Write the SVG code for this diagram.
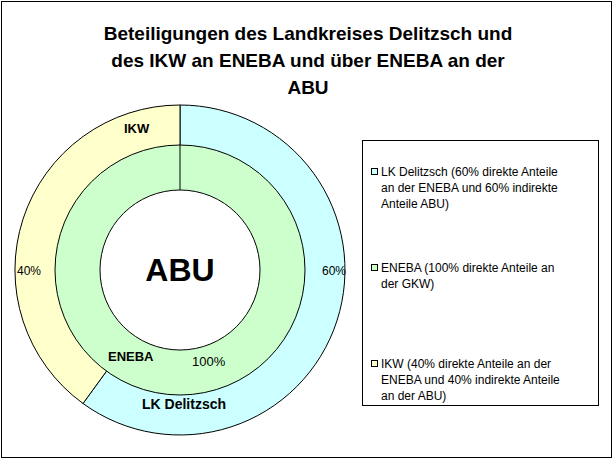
<svg xmlns="http://www.w3.org/2000/svg" width="616" height="462" viewBox="0 0 616 462">
<style>
text{font-family:"Liberation Sans",Arial,sans-serif;fill:#000}
.t{font-size:19px;font-weight:bold}
.l{font-size:12px}
.s{stroke:#000;stroke-width:1}
</style>
<rect x="0" y="0" width="616" height="462" fill="#fff"/>
<rect x="1.5" y="1.5" width="610" height="456" fill="none" stroke="#000"/>
<g id="title">
<text class="t" x="308" y="40" text-anchor="middle">Beteiligungen des Landkreises Delitzsch und</text>
<text class="t" x="308" y="67" text-anchor="middle">des IKW an ENEBA und über ENEBA  an der</text>
<text class="t" x="308" y="94" text-anchor="middle">ABU</text>
</g>
<g id="outer-lk">
<path class="s" d="M180,270 L180,105 A165,165 0 1 1 83,403.5 Z" fill="#ccffff"/>
</g>
<g id="outer-ikw">
<path class="s" d="M180,270 L83,403.5 A165,165 0 0 1 180,105 Z" fill="#ffffcc"/>
</g>
<g id="inner-eneba">
<circle class="s" cx="180" cy="270" r="125" fill="#ccffcc"/>
<line class="s" x1="180" y1="145" x2="180" y2="190"/>
</g>
<g id="hole">
<circle class="s" cx="180" cy="270" r="80" fill="#fff"/>
<text x="180" y="281" text-anchor="middle" font-size="32" font-weight="bold">ABU</text>
</g>
<g id="labels">
<text x="124" y="133" font-size="13" font-weight="bold">IKW</text>
<text x="17" y="275" class="l" font-size="13">40%</text>
<text x="322" y="275" class="l" font-size="13">60%</text>
<text x="108" y="361" font-size="13" font-weight="bold">ENEBA</text>
<text x="192" y="366" font-size="13">100%</text>
<text x="142" y="409" font-size="14" font-weight="bold">LK Delitzsch</text>
</g>
<g id="legend">
<rect x="362.5" y="140.5" width="236" height="265" fill="#fff" stroke="#000"/>
<rect x="371.5" y="168.5" width="6" height="6" fill="#ccffff" stroke="#000"/>
<text class="l" x="381" y="176">LK Delitzsch (60% direkte Anteile</text>
<text class="l" x="381" y="192">an der ENEBA und 60% indirekte</text>
<text class="l" x="381" y="208">Anteile ABU)</text>
<rect x="371.5" y="264.5" width="6" height="6" fill="#ccffcc" stroke="#000"/>
<text class="l" x="381" y="272">ENEBA (100% direkte Anteile an</text>
<text class="l" x="381" y="288">der GKW)</text>
<rect x="371.5" y="360.5" width="6" height="6" fill="#ffffcc" stroke="#000"/>
<text class="l" x="381" y="368">IKW (40% direkte Anteile an der</text>
<text class="l" x="381" y="384">ENEBA und 40% indirekte Anteile</text>
<text class="l" x="381" y="400">an der ABU)</text>
</g>
</svg>
